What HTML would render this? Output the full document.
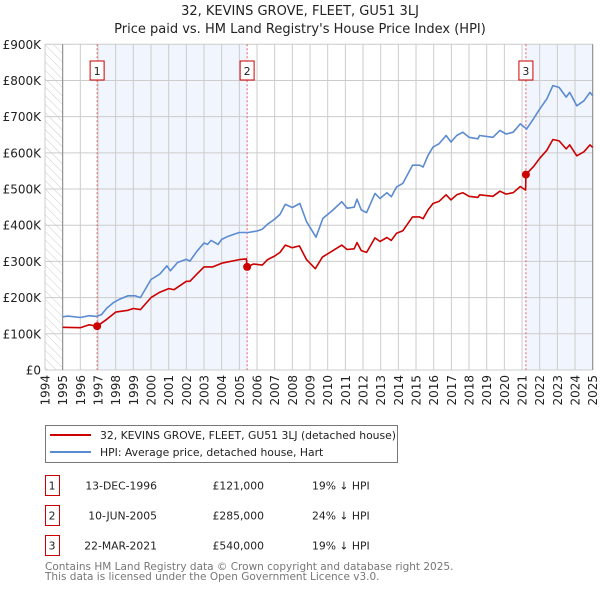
<!DOCTYPE html>
<html><head><meta charset="utf-8"><style>
body{margin:0;background:#fff;font-family:"DejaVu Sans","Liberation Sans",sans-serif;}
svg text{font-family:"DejaVu Sans","Liberation Sans",sans-serif;}
</style></head><body>
<svg id="chart" width="600" height="590" xmlns="http://www.w3.org/2000/svg">
<defs>
<pattern id="hatch" width="6" height="6" patternUnits="userSpaceOnUse" patternTransform="rotate(-45)">
<line x1="0" y1="0" x2="0" y2="6" stroke="#ccc" stroke-width="1"/></pattern>
</defs>
<text x="300" y="15" text-anchor="middle" font-size="13" fill="#222">32, KEVINS GROVE, FLEET, GU51 3LJ</text>
<text x="300" y="33" text-anchor="middle" font-size="13" fill="#222">Price paid vs. HM Land Registry's House Price Index (HPI)</text>
<g id="plot"></g>
<g>
<rect x="45.5" y="425.5" width="352" height="37" fill="#fff" stroke="#777"/>
<line x1="50" y1="435" x2="91" y2="435" stroke="#cc0000" stroke-width="2"/>
<text x="100" y="439" font-size="10.8" fill="#222">32, KEVINS GROVE, FLEET, GU51 3LJ (detached house)</text>
<line x1="50" y1="452" x2="91" y2="452" stroke="#5b8bd0" stroke-width="2"/>
<text x="100" y="456" font-size="10.8" fill="#222">HPI: Average price, detached house, Hart</text>
</g>
<g id="table" font-size="10.8" fill="#222"></g>
<text x="45" y="570" font-size="10.5" fill="#777">Contains HM Land Registry data © Crown copyright and database right 2025.</text>
<text x="45" y="580" font-size="10.5" fill="#777">This data is licensed under the Open Government Licence v3.0.</text>
</svg>
<script>
const hpiYears=[1995,1995.3,1996,1996.5,1996.9,1997.2,1997.5,1997.9,1998.2,1998.7,1999.1,1999.4,2000,2000.5,2000.9,2001.1,2001.5,2002,2002.2,2002.6,2003,2003.2,2003.4,2003.8,2004,2004.3,2004.7,2005,2005.5,2006,2006.3,2006.6,2007,2007.3,2007.6,2008,2008.43,2008.8,2009.34,2009.73,2010.3,2010.8,2011.1,2011.5,2011.66,2011.9,2012.2,2012.68,2012.96,2013.35,2013.6,2013.9,2014.26,2014.8,2015.2,2015.4,2015.68,2015.96,2016.3,2016.7,2016.98,2017.3,2017.65,2018,2018.5,2018.6,2019.35,2019.75,2020.1,2020.5,2020.9,2021.26,2021.65,2022,2022.4,2022.75,2023.1,2023.5,2023.7,2024.1,2024.5,2024.85,2025];
const hpiValues=[147,149,145,150,148,153,171,187,195,205,205,200,250,265,288,274,297,306,301,328,351,347,358,347,361,368,375,380,380,384,389,403,417,430,458,449,460,410,367,419,442,465,447,450,472,442,435,488,474,490,479,506,516,566,566,561,593,616,625,648,630,648,657,643,639,648,643,662,652,657,680,666,694,721,749,786,781,754,767,730,744,767,758];
const priceYears=[1995,1996,1996.5,1996.95,1997.5,1998,1998.7,1999,1999.4,2000,2000.5,2001,2001.3,2002,2002.2,2002.6,2003,2003.5,2004,2005,2005.4,2005.44,2005.8,2006.3,2006.6,2007,2007.3,2007.6,2008,2008.4,2008.8,2009.3,2009.7,2010.3,2010.8,2011.1,2011.5,2011.66,2011.9,2012.2,2012.68,2012.96,2013.35,2013.6,2013.9,2014.26,2014.8,2015.2,2015.4,2015.68,2015.96,2016.3,2016.7,2016.98,2017.3,2017.65,2018,2018.5,2018.6,2019.35,2019.75,2020.1,2020.5,2020.9,2021.2,2021.22,2021.65,2022,2022.4,2022.75,2023.1,2023.5,2023.7,2024.1,2024.5,2024.85,2025];
const priceValues=[118,117,125,121,140,160,165,170,167,200,215,225,222,245,245,265,285,285,295,305,307,285,293,290,305,315,325,345,338,343,305,280,312,330,345,333,335,352,330,325,365,355,366,358,378,385,423,423,418,442,460,466,484,470,484,490,480,477,484,480,494,486,490,507,497,540,562,585,607,637,633,611,622,592,603,622,615];
const saleLabels=["1","2","3"];
const saleYears=[1996.95,2005.44,2021.22];
const salePrices=[121,285,540];
const saleDates=["13-DEC-1996","10-JUN-2005","22-MAR-2021"];
const salePriceText=["£121,000","£285,000","£540,000"];
const salePctText=["19% ↓ HPI","24% ↓ HPI","19% ↓ HPI"];
const yTicks=[0,100,200,300,400,500,600,700,800,900];
const yTickLabels=["£0","£100K","£200K","£300K","£400K","£500K","£600K","£700K","£800K","£900K"];
const xStart=1994,xEnd=2025;

const NS="http://www.w3.org/2000/svg";
const L=45,R=592.7,T=44.3,B=370;
const xs=y=>L+(y-xStart)/(xEnd-xStart)*(R-L);
const ys=v=>B-v/900*(B-T);
function mk(tag,attrs,parent){const e=document.createElementNS(NS,tag);for(const k in attrs)e.setAttribute(k,attrs[k]);parent.appendChild(e);return e;}
const plot=document.getElementById('plot');
let r=mk('rect',{x:xs(saleYears[0]),y:T,width:xs(saleYears[1])-xs(saleYears[0]),height:B-T,fill:'#eef3fc',opacity:0.8},plot);


r=mk('rect',{x:xs(saleYears[2]),y:T,width:xs(xEnd)-xs(saleYears[2]),height:B-T,fill:'#eef3fc',opacity:0.8},plot);


r=mk('rect',{x:L,y:T,width:xs(1995)-L,height:B-T,fill:'url(#hatch)'},plot);


for(let yr=xStart;yr<=xEnd;yr++){
 const g=mk('line',{x1:xs(yr),x2:xs(yr),y1:T,y2:B,stroke:'#ccc','stroke-width':1},plot);
 
 
 const t=mk('text',{x:0,y:0,'font-size':12,fill:'#222','text-anchor':'end',transform:`translate(${xs(yr)+4.5},${B+5}) rotate(-90)`},plot);
 t.textContent=yr;
 
 
}
yTicks.forEach((v,i)=>{
 const g=mk('line',{x1:L,x2:R,y1:ys(v),y2:ys(v),stroke:'#ccc','stroke-width':1},plot);
 
 
 const t=mk('text',{x:L-4,y:ys(v)+4.5,'font-size':12,fill:'#222','text-anchor':'end'},plot);
 t.textContent=yTickLabels[i];
 
 
});
let ax=mk('line',{x1:xs(1995),x2:xs(1995),y1:T,y2:B,stroke:'#888','stroke-width':1},plot);


ax=mk('line',{x1:R,x2:R,y1:T,y2:B,stroke:'#888','stroke-width':1},plot);


saleYears.forEach((yr,i)=>{
 const l=mk('line',{x1:xs(yr),x2:xs(yr),y1:T,y2:B,stroke:'#e06060','stroke-width':1,'stroke-dasharray':'2,2'},plot);
 
 
});
function line(xa,va,color,name){
 const p=mk('polyline',{points:xa.map((x,i)=>xs(x).toFixed(1)+','+ys(va[i]).toFixed(1)).join(' '),fill:'none',stroke:color,'stroke-width':1.6,'stroke-linejoin':'round'},plot);
 
 
}
line(hpiYears,hpiValues,'#5b8bd0','hpi-line');
line(priceYears,priceValues,'#cc0000','property-price-line');
saleYears.forEach((yr,i)=>{
 const c=mk('circle',{cx:xs(yr),cy:ys(salePrices[i]),r:4,fill:'#cc0000'},plot);
 
 
 const b=mk('rect',{x:xs(yr)-7,y:61,width:14,height:19,fill:'#fff',stroke:'#cc0000','stroke-width':1},plot);
 
 
 const t=mk('text',{x:xs(yr),y:75,'font-size':11,fill:'#222','text-anchor':'middle'},plot);
 t.textContent=saleLabels[i];
 
 
});
const tb=document.getElementById('table');
saleLabels.forEach((lab,i)=>{
 const y0=475+i*30;
 const b=mk('rect',{x:45.5,y:y0+0.5,width:14,height:20,fill:'#fff',stroke:'#cc0000'},tb);
 
 
 const cells=[[lab,52,'middle','table-row-number'],[saleDates[i],157,'end','table-row-date'],[salePriceText[i],264,'end','table-row-price'],[salePctText[i],312,'start','table-row-hpi-diff']];
 cells.forEach(c=>{
  const t=mk('text',{x:c[1],y:y0+14.5,'text-anchor':c[2]},tb);
  t.textContent=c[0];
  
  
 });
});
</script>
</body></html>
